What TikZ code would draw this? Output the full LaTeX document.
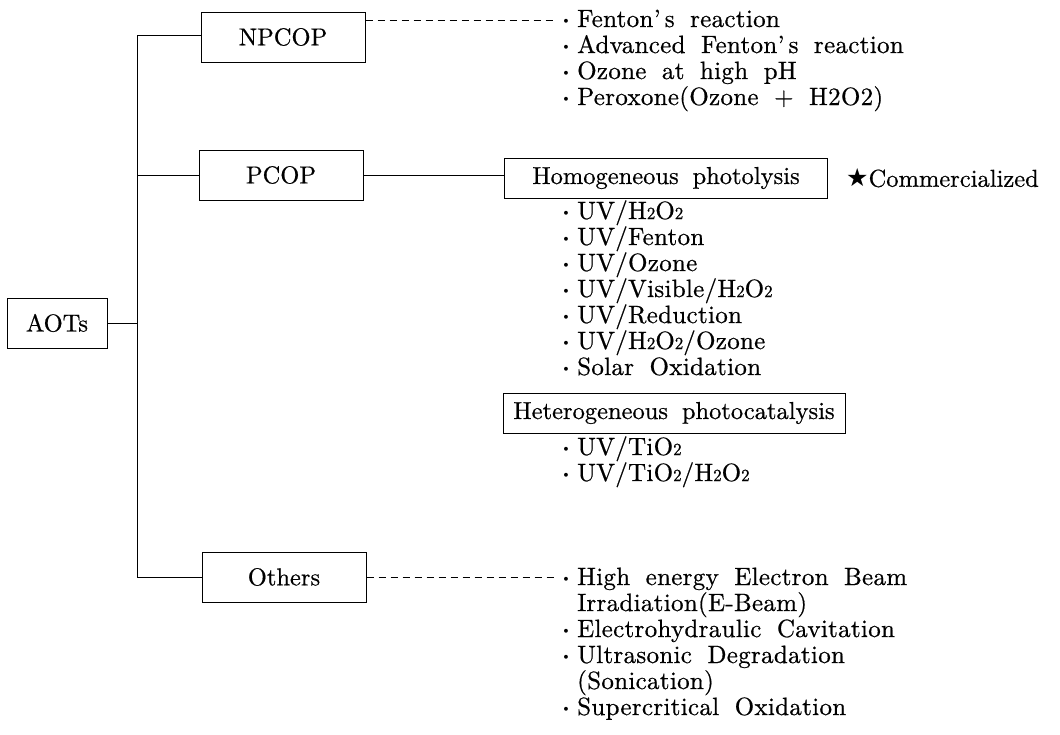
\documentclass[tikz,border=0pt]{standalone}
\usepackage{fontspec}
\setmainfont{lmroman10-regular.otf}[WordSpace=1.7, FakeBold=0.6]
\newfontfamily\listfont{lmroman10-regular.otf}[Ligatures=TeX, WordSpace=1.8, LetterSpace=1.2, FakeBold=0.6]
\newfontfamily\symfont{DejaVu Sans}
\newcommand{\bul}{\makebox[15pt][l]{\boldmath$\cdot$}}
\newcommand{\sm}[1]{{\fontsize{17}{17}\selectfont #1}}
\begin{document}
\begin{tikzpicture}[x=1pt,y=-1pt,
  every node/.style={font=\fontsize{24.5}{28}\selectfont, inner sep=0pt},
  box/.style={draw, line width=1pt, minimum width=164pt, minimum height=50pt},
  subbox/.style={draw, line width=1pt, minimum height=40pt},
  conn/.style={line width=1pt},
  dashline/.style={line width=0.9pt, dash pattern=on 7pt off 5pt},
  item/.style={anchor=base west, font=\listfont\fontsize{25}{28}\selectfont}]
\useasboundingbox (0,0) rectangle (1060,734);
% main boxes
\node[box, minimum width=100pt] (aots) at (57,323) {AOTs};
\node[box] (npcop) at (283,37) {NPCOP};
\node[box] (pcop) at (281,175) {PCOP};
\node[box] (others) at (284,577) {Others};
\coordinate (jA) at (137,323);
\coordinate (jN) at (137,35);
\coordinate (jP) at (137,175);
\coordinate (jO) at (137,577);
\draw[conn] (aots.east) -- (jA);
\draw[conn] (jN) -- (jO);
\draw[conn] (jN) -- (npcop.west |- jN);
\draw[conn] (jP) -- (pcop.west);
\draw[conn] (jO) -- (others.west);
% NPCOP list
\coordinate (npend) at (557,20);
\draw[dashline] (npcop.east |- npend) -- (npend);
\node[item] (np1) at (562,27) {\bul Fenton’\,s reaction};
\node[item] (np2) at (562,53) {\bul Advanced Fenton’\,s reaction};
\node[item] (np3) at (562,79) {\bul Ozone at high pH};
\node[item] (np4) at (562,105) {\bul Peroxone(Ozone + H2O2)};
% PCOP branch
\node[subbox, minimum width=323pt] (homo) at (666,178) {Homogeneous photolysis};
\draw[conn] (pcop.east) -- (pcop.east -| homo.west);
\node[anchor=west] (comm) at (846,178) {{\symfont\fontsize{25}{25}\selectfont ★}Commercialized};
\node[item] (h1) at (562,219) {\bul UV/H\sm{2}O\sm{2}};
\node[item] (h2) at (562,245) {\bul UV/Fenton};
\node[item] (h3) at (562,271) {\bul UV/Ozone};
\node[item] (h4) at (562,297) {\bul UV/Visible/H\sm{2}O\sm{2}};
\node[item] (h5) at (562,323) {\bul UV/Reduction};
\node[item] (h6) at (562,349) {\bul UV/H\sm{2}O\sm{2}/Ozone};
\node[item] (h7) at (562,375) {\bul Solar Oxidation};
\node[subbox, minimum width=342pt] (hetero) at (674,413) {Heterogeneous photocatalysis};
\node[item] (t1) at (562,455) {\bul UV/TiO\sm{2}};
\node[item] (t2) at (562,481) {\bul UV/TiO\sm{2}/H\sm{2}O\sm{2}};
% Others list
\coordinate (otend) at (557,577);
\draw[dashline] (others.east |- otend) -- (otend);
\node[item] (o1) at (562,585) {\bul High energy Electron Beam};
\node[item] (o2) at (562,611) {\phantom{\bul}Irradiation(E-Beam)};
\node[item] (o3) at (562,637) {\bul Electrohydraulic Cavitation};
\node[item] (o4) at (562,663) {\bul Ultrasonic Degradation};
\node[item] (o5) at (562,689) {\phantom{\bul}(Sonication)};
\node[item] (o6) at (562,715) {\bul Supercritical Oxidation};
\end{tikzpicture}
\end{document}
